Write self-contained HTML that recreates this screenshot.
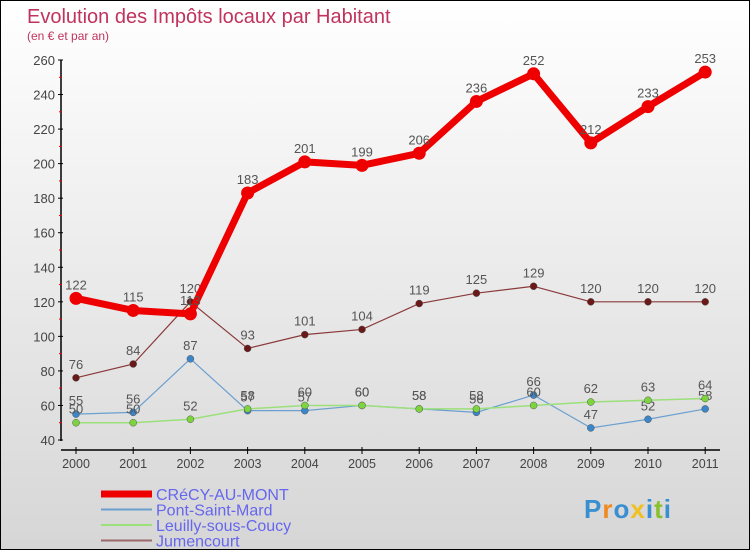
<!DOCTYPE html>
<html><head><meta charset="utf-8"><style>
body{margin:0}
#c{width:748px;height:548px;border:1px solid #000;background:linear-gradient(#fff,#d6d6d6);position:relative;font-family:"Liberation Sans","DejaVu Sans",sans-serif;overflow:hidden}
svg{position:absolute;left:0;top:0}
</style></head><body><div id="c">
<svg id="s" width="748" height="548" xmlns="http://www.w3.org/2000/svg">
<text x="26" y="22" font-size="20" fill="#c0335f">Evolution des Impôts locaux par Habitant</text>
<text x="26" y="39" font-size="12" fill="#c0335f">(en € et par an)</text>
</svg></div>
<script>
const s=document.getElementById('s'),NS='http://www.w3.org/2000/svg';
function el(t,a,txt){const e=document.createElementNS(NS,t);for(const k in a)e.setAttribute(k,a[k]);if(txt!=null)e.textContent=txt;s.appendChild(e);return e}
const X=i=>75+i*57.2, Y=v=>439-(v-40)*1.7273;
el('line',{x1:60,y1:59,x2:60,y2:440,stroke:'#000','stroke-width':1.5});
el('line',{x1:60,y1:449,x2:719,y2:449,stroke:'#000','stroke-width':1.5});
for(let v=40;v<=260;v+=20){el('line',{x1:57,y1:Y(v),x2:62,y2:Y(v),stroke:'#000'});el('text',{x:54,y:Y(v)+5,'font-size':13,fill:'#444','text-anchor':'end'},v);
 if(v<260)el('line',{x1:58,y1:Y(v+10),x2:61,y2:Y(v+10),stroke:'#e00'});}
for(let i=0;i<12;i++){el('line',{x1:X(i),y1:446,x2:X(i),y2:453,stroke:'#000'});el('text',{x:X(i),y:467,'font-size':12.5,fill:'#444','text-anchor':'middle'},2000+i);}
const D=[
[[55,56,87,57,57,60,58,56,66,47,52,58],'#6a9fcf','#3a86c8',1.2,3.5],
[[50,50,52,58,60,60,58,58,60,62,63,64],'#9be07a','#7cd53e',1.5,3.5],
[[76,84,120,93,101,104,119,125,129,120,120,120],'#8a3a3a','#6b1818',1.2,3.5],
[[122,115,113,183,201,199,206,236,252,212,233,253],'#ee0000','#ee0000',7,6.5]];
for(const [d,lc,pc,w,r] of D){el('polyline',{points:d.map((v,i)=>X(i)+','+Y(v)).join(' '),fill:'none',stroke:lc,'stroke-width':w,'stroke-linejoin':'round'});
 d.forEach((v,i)=>{el('circle',{cx:X(i),cy:Y(v),r:r,fill:pc,stroke:w>5?'none':'#555','stroke-width':0.5});el('text',{x:X(i),y:Y(v)-9,'font-size':13,fill:'#555','text-anchor':'middle'},v)});}
const L=[['CRéCY-AU-MONT','#ee0000',7],['Pont-Saint-Mard','#6a9fcf',2],['Leuilly-sous-Coucy','#9be07a',2],['Jumencourt','#9a6a6a',2]];
L.forEach(([t,c,w],i)=>{const y=493+i*15.5;el('line',{x1:100,y1:y,x2:151,y2:y,stroke:c,'stroke-width':w});el('text',{x:155,y:y+6,'font-size':16,fill:'#6666ee'},t)});
const P=[['P','#3a8fd0'],['r','#f08a20'],['o','#3a8fd0'],['x','#f0c020'],['i','#3a8fd0'],['t','#8ac030'],['i','#3a8fd0']];let px=583;
P.forEach(([t,c])=>{const e=el('text',{x:px,y:517,'font-size':26,'font-weight':'bold',fill:c},t);px+=e.getComputedTextLength()+1});
</script></body></html>
